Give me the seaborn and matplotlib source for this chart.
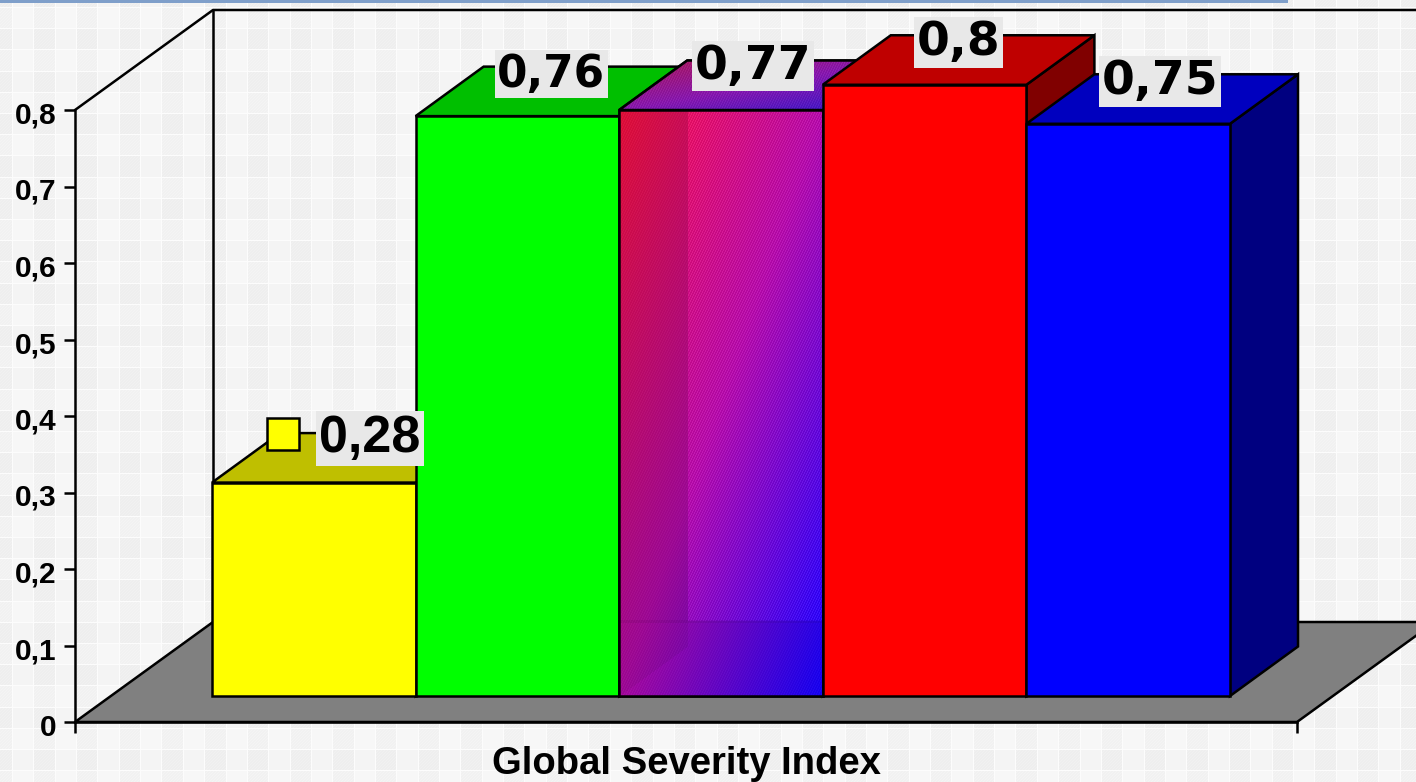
import numpy as np
import pandas as pd
import seaborn as sns
import matplotlib.pyplot as plt
from matplotlib.colors import to_rgb
from matplotlib.patches import Polygon
from matplotlib.transforms import Affine2D, IdentityTransform, ScaledTranslation

# Data
CATEGORY = ["Global Severity Index"]
SERIES = ["s1", "s2", "s3", "s4", "s5"]
VALUES = [0.279, 0.758, 0.766, 0.799, 0.748]
VALUE_LABELS = ["0,28", "0,76", "0,77", "0,8", "0,75"]
COLORS = ["#ffff00", "#00ff00", "#a000a0", "#ff0000", "#0000ff"]
YTICKS = [0, 0.1, 0.2, 0.3, 0.4, 0.5, 0.6, 0.7, 0.8]
YTICK_LABELS = ["0", "0,1", "0,2", "0,3", "0,4", "0,5", "0,6", "0,7", "0,8"]

# Layout, reference pixels
W, H = 1416, 782
AX_L, AX_R, AX_Y0, AX_TOP = 75, 1297, 722, 10
BAR_L, BAR_R, BAR_Y0 = 212, 1230, 696
PX_PER_UNIT = 765.0
DEPTH_X, DEPTH_Y = 68, 49.5
LW = 1.8
LABEL_OFFSETS = [(56, 44), (34, 42), (32, 44), (34, 42), (32, 42)]
LABEL_FONTS = [("Liberation Sans", 37.5), ("DejaVu Sans", 31.5), ("DejaVu Sans", 34),
               ("DejaVu Sans", 34), ("DejaVu Sans", 34)]


def background():
    yy, xx = np.mgrid[0:H, 0:W]
    col = np.floor((xx - 12) / 21.35).astype(int)
    row = np.floor((yy - 7) / 21.2).astype(int)
    img = np.where(col % 2 == 0, 246.0, 240.0)
    img = img + np.where(row % 2 == 0, 1.0, -1.5)
    img[((xx + yy) % 3 == 0) & (col % 2 == 1)] += 3
    img[np.round(xx % 21.35) == 12] = 252
    img[np.round(yy % 21.2) == 7] = 252
    rgb = np.dstack([img, img, img]) / 255
    rgb[:3, :1288] = to_rgb("#7f9fca")
    return rgb


def gradient(x0, x1, y0, y1, stops):
    # red to blue running from the top left to the bottom right
    yy, xx = np.mgrid[y0:y1, x0:x1]
    t = ((xx - x0) / (x1 - x0) + (yy - y0) / (y1 - y0)) / 2
    rgb = np.dstack([np.interp(t, [0, 0.5, 1], [s[i] for s in stops]) for i in range(3)]) / 255
    return rgb, xx, yy


def main():
    sns.set_style("white")
    plt.rcParams["font.family"] = ["Liberation Sans", "DejaVu Sans"]
    fig = plt.figure(figsize=(W / 100, H / 100), dpi=100)

    bg = fig.add_axes([0, 0, 1, 1], zorder=-1)
    bg.imshow(background(), aspect="auto", interpolation="nearest")
    bg.axis("off")

    ax = fig.add_axes([AX_L / W, (H - AX_Y0) / H, (AX_R - AX_L) / W, (AX_Y0 - AX_TOP) / H])
    ax.patch.set_alpha(0)

    df = pd.DataFrame({"category": CATEGORY * len(SERIES), "series": SERIES, "value": VALUES})
    sns.barplot(data=df, x="category", y="value", hue="series", palette=COLORS, saturation=1,
                width=0.8, gap=0, errorbar=None, legend=False, edgecolor="black", linewidth=LW, ax=ax)

    px_per_x = (BAR_R - BAR_L) / 0.8
    bar_mid = (BAR_L + BAR_R) / 2
    ax.set_xlim((AX_L - bar_mid) / px_per_x, (AX_R - bar_mid) / px_per_x)
    ax.set_ylim(0, (AX_Y0 - AX_TOP) / PX_PER_UNIT)
    ax.set_autoscale_on(False)
    lift = (AX_Y0 - BAR_Y0) / PX_PER_UNIT

    # pixel coordinates of the reference, y pointing down
    pix = Affine2D().scale(1, -1).translate(0, H)

    # floor and walls
    ax.add_patch(Polygon([(75, 722), (213, 622), (1435, 622), (1297, 722)], closed=True, facecolor="#808080",
                         edgecolor="black", linewidth=LW, transform=pix, clip_on=False, zorder=1))
    ax.plot([75, 213, 1416], [110, 10, 10], color="black", lw=LW, transform=pix, clip_on=False, zorder=1)
    ax.plot([213, 213], [10, 622], color="black", lw=LW, transform=pix, clip_on=False, zorder=1)

    bars = list(ax.patches)[:len(VALUES)]
    disp = IdentityTransform()
    for i, bar in enumerate(bars):
        bar.set_y(lift)
        bar.set_zorder(3 + i + 0.2)
        (x0, y0), (x1, y1) = ax.transData.transform(
            [(bar.get_x(), lift), (bar.get_x() + bar.get_width(), lift + bar.get_height())])
        col = np.array(to_rgb(COLORS[i]))
        top = [(x0, y1), (x0 + DEPTH_X, y1 + DEPTH_Y), (x1 + DEPTH_X, y1 + DEPTH_Y), (x1, y1)]
        side = [(x1, y0), (x1 + DEPTH_X, y0 + DEPTH_Y), (x1 + DEPTH_X, y1 + DEPTH_Y), (x1, y1)]
        ax.add_patch(Polygon(side, closed=True, facecolor=col * 0.5, edgecolor="black", linewidth=LW,
                             transform=disp, clip_on=False, zorder=3 + i))
        top_patch = Polygon(top, closed=True, facecolor=col * 0.75, edgecolor="black", linewidth=LW,
                            transform=disp, clip_on=False, zorder=3 + i + 0.1)
        ax.add_patch(top_patch)

        if SERIES[i] == "s3":
            # gradient front with the walls and floor showing through
            ix0, ix1 = int(x0), int(x1)
            iy0, iy1 = H - int(y1), H - int(y0)
            rgb, xx, yy = gradient(ix0, ix1, iy0, iy1, [(250, 15, 60), (175, 8, 165), (20, 0, 255)])
            back = (xx >= ix0 + 69) & (yy < 621)
            left = (xx < ix0 + 69) & ((yy - iy1) < -(xx - ix0) * DEPTH_Y / DEPTH_X)
            shade = np.full(xx.shape, 0.93)
            shade[left] = 0.88
            shade[back] = 1.0
            rgb = rgb * shade[..., None]
            dots = ((xx * 2 + yy) % 5 < 2)
            rgb[dots & back] = np.clip(rgb[dots & back] + 0.07, 0, 1)
            rgb[dots & ~back] = np.clip(rgb[dots & ~back] + 0.03, 0, 1)
            rgb[np.abs(yy - 621) < 1.5] *= 0.94
            im = ax.imshow(rgb, extent=(ix0, ix1, H - iy1, H - iy0), transform=disp, aspect="auto",
                           interpolation="nearest", zorder=3 + i + 0.21, clip_on=True)
            im.set_clip_path(bar)
            ax.add_patch(Polygon([(x0, y0), (x0, y1), (x1, y1), (x1, y0)], closed=True, fill=False,
                                 edgecolor="black", linewidth=LW, transform=disp, clip_on=False,
                                 zorder=3 + i + 0.22))
            # gradient top face
            tx0, tx1 = int(x0), int(x1 + DEPTH_X)
            ty0, ty1 = H - int(y1 + DEPTH_Y), H - int(y1)
            rgb2, xx2, yy2 = gradient(tx0, tx1, ty0, ty1, [(170, 20, 80), (130, 20, 170), (40, 20, 200)])
            rgb2[(xx2 * 2 + yy2) % 5 < 2] += 0.05
            im2 = ax.imshow(np.clip(rgb2, 0, 1), extent=(tx0, tx1, H - ty1, H - ty0), transform=disp,
                            aspect="auto", interpolation="nearest", zorder=3 + i + 0.11)
            im2.set_clip_path(top_patch)
            ax.add_patch(Polygon(top, closed=True, fill=False, edgecolor="black", linewidth=LW,
                                 transform=disp, clip_on=False, zorder=3 + i + 0.12))

        # value label
        family, size = LABEL_FONTS[i]
        ax.annotate(VALUE_LABELS[i], xy=((x0 + x1) / 2, y1), xycoords=disp, xytext=LABEL_OFFSETS[i],
                    textcoords="offset pixels", ha="center", va="center", fontsize=size,
                    fontweight="bold", family=family, color="black", zorder=20, annotation_clip=False,
                    bbox=dict(boxstyle="square,pad=0.06", facecolor="#e8e8e8", edgecolor="none"))

    # legend key of the first label
    ax.plot([283], [434], marker="s", ms=23.5, mfc=COLORS[0], mec="black", mew=LW, ls="none",
            transform=pix, clip_on=False, zorder=19)

    # axes
    sns.despine(ax=ax, top=True, right=True)
    ax.spines["left"].set_bounds(0, 0.8)
    ax.spines["left"].set_linewidth(LW)
    ax.spines["bottom"].set_linewidth(LW)
    ax.spines["left"].set_color("black")
    ax.spines["bottom"].set_color("black")
    ax.spines["left"].set_zorder(2)
    ax.spines["bottom"].set_zorder(2)
    ax.set_yticks(YTICKS, labels=YTICK_LABELS)
    ax.set_xticks(list(ax.get_xlim()), labels=["", ""])
    ax.tick_params(axis="both", direction="out", length=8, width=LW, color="black", left=True, bottom=True)
    ax.tick_params(axis="y", labelsize=21.5, pad=5, labelcolor="black")
    down = ScaledTranslation(0, -2.5 / 100, fig.dpi_scale_trans)
    for lab in ax.get_yticklabels():
        lab.set_fontweight("bold")
        lab.set_family("Liberation Sans")
        lab.set_transform(lab.get_transform() + down)
    ax.set_ylabel("")
    ax.set_xlabel(CATEGORY[0], fontsize=27.5, fontweight="bold", family="Liberation Sans", labelpad=6, color="black")

    fig.savefig("out.png", dpi=100)


if __name__ == '__main__':
    main()
